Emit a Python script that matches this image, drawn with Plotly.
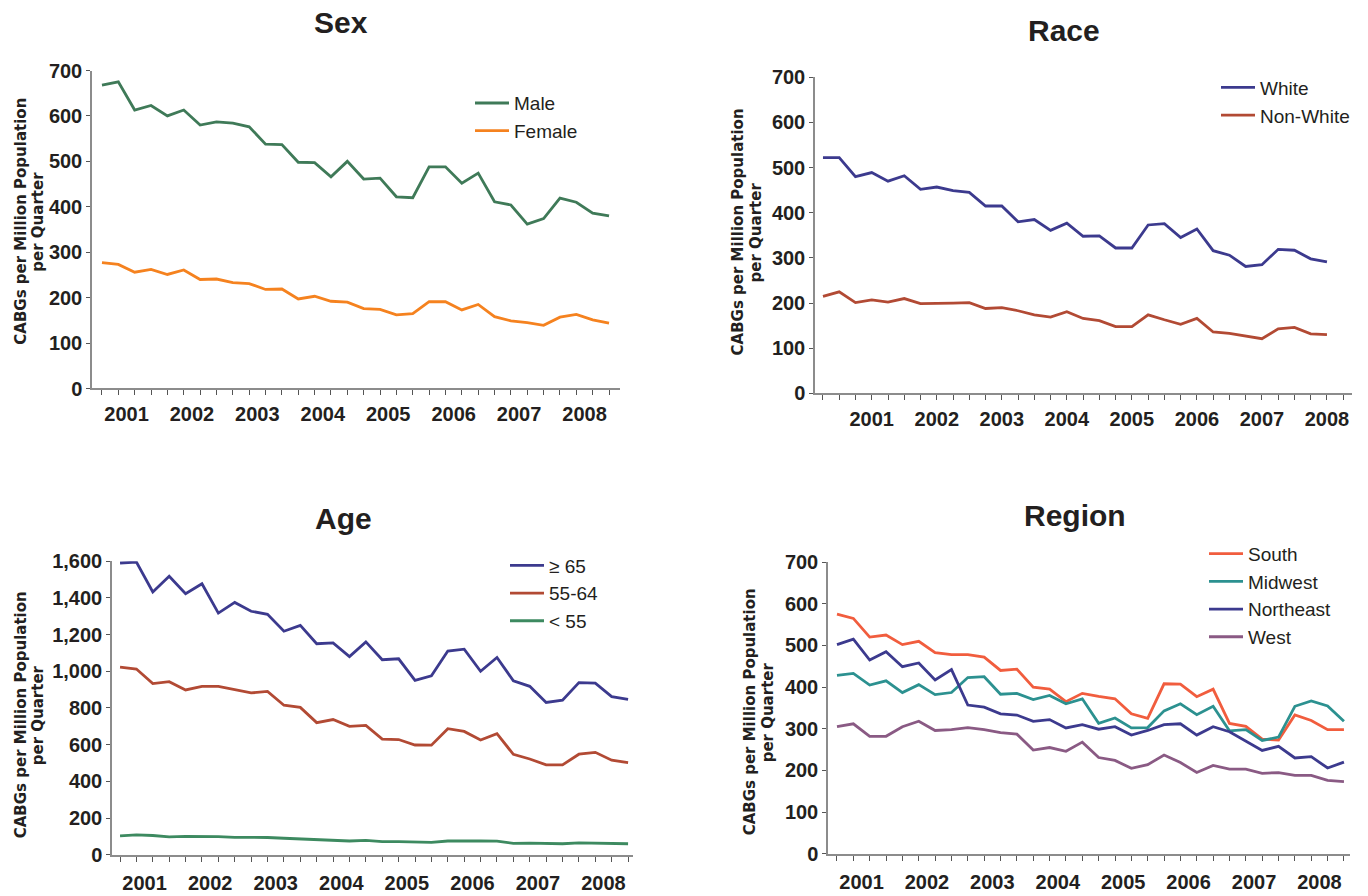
import plotly.graph_objects as go

# Quarterly CABG rates, 2001 Q1 - 2008 Q4 (32 quarters)
years = ["2001", "2002", "2003", "2004", "2005", "2006", "2007", "2008"]
quarters = list(range(32))

male = [668, 675, 613, 623, 600, 613, 580, 587, 584, 576, 538, 537, 498, 497, 466, 500,
        461, 463, 422, 420, 488, 488, 452, 474, 411, 404, 362, 374, 419, 410, 386, 380]
female = [277, 273, 256, 262, 251, 261, 240, 241, 233, 231, 218, 219, 197, 203, 192, 190,
          176, 174, 162, 165, 191, 191, 173, 185, 158, 149, 145, 139, 157, 163, 151, 144]

white = [522, 522, 480, 489, 470, 482, 452, 457, 449, 445, 415, 415, 380, 385, 361, 377,
         348, 349, 322, 322, 373, 376, 345, 364, 316, 306, 281, 285, 319, 317, 298, 291]
non_white = [215, 225, 201, 207, 202, 210, 199, 199, 200, 201, 188, 190, 183, 174, 169, 181,
             166, 161, 148, 148, 174, 163, 153, 166, 136, 133, 127, 121, 143, 146, 132, 130]

age_65_plus = [1590, 1595, 1432, 1518, 1422, 1477, 1317, 1375, 1327, 1310, 1218, 1250, 1150, 1155, 1080, 1160,
               1063, 1068, 950, 975, 1110, 1120, 1000, 1075, 948, 918, 830, 842, 938, 935, 862, 847]
age_55_64 = [1022, 1012, 933, 943, 898, 918, 918, 900, 882, 890, 815, 803, 720, 737, 700, 705,
             630, 628, 598, 597, 687, 672, 625, 660, 547, 522, 490, 490, 548, 558, 515, 502]
age_under_55 = [103, 108, 105, 97, 100, 100, 99, 95, 95, 94, 90, 86, 80, 80, 75, 78,
                72, 72, 70, 67, 75, 77, 75, 74, 62, 63, 60, 60, 65, 62, 62, 60]

south = [575, 565, 520, 525, 502, 510, 483, 478, 478, 472, 440, 443, 400, 395, 365, 385,
         378, 372, 336, 325, 408, 407, 377, 395, 313, 306, 275, 273, 333, 320, 298, 298]
midwest = [428, 433, 405, 415, 387, 406, 382, 387, 423, 425, 383, 385, 370, 380, 360, 372,
           313, 326, 302, 303, 343, 360, 334, 354, 295, 298, 272, 280, 354, 367, 355, 318]
northeast = [502, 515, 465, 485, 449, 458, 417, 442, 357, 352, 336, 333, 318, 322, 302, 310,
             299, 305, 285, 296, 310, 312, 285, 305, 293, 270, 248, 258, 230, 233, 206, 220]
west = [305, 312, 282, 282, 305, 318, 296, 298, 303, 298, 291, 287, 249, 255, 246, 268,
        231, 224, 205, 214, 237, 219, 195, 212, 203, 203, 193, 195, 188, 188, 176, 173]

W, H = 1368, 896
GREEN = "#3f7a58"
ORANGE = "#f5821f"
NAVY = "#3c3a8e"
BRICK = "#b24a34"
AGE_GREEN = "#3d8a60"
SOUTH = "#f15d3e"
TEAL = "#2c9190"
PLUM = "#8a5a84"
INK = "#231f20"

SANS = "Liberation Sans, Arial, sans-serif"
WIDE = "DejaVu Sans, Verdana, sans-serif"

fig = go.Figure()


def px_x(p):
    return p / W


def px_y(p):
    return 1 - p / H


def add_series(values, name, color, ax, legend):
    fig.add_trace(go.Scatter(
        x=quarters, y=values, name=name, mode="lines",
        line=dict(color=color, width=2.8),
        xaxis="x" + ax, yaxis="y" + ax, legend=legend,
    ))


add_series(male, "Male", GREEN, "", "legend")
add_series(female, "Female", ORANGE, "", "legend")
add_series(white, "White", NAVY, "2", "legend2")
add_series(non_white, "Non-White", BRICK, "2", "legend2")
add_series(age_65_plus, "\u2265 65", NAVY, "3", "legend3")
add_series(age_55_64, "55-64", BRICK, "3", "legend3")
add_series(age_under_55, "< 55", AGE_GREEN, "3", "legend3")
add_series(south, "South", SOUTH, "4", "legend4")
add_series(midwest, "Midwest", TEAL, "4", "legend4")
add_series(northeast, "Northeast", NAVY, "4", "legend4")
add_series(west, "West", PLUM, "4", "legend4")

# panel geometry in pixels, axis ranges, year-label offsets and label gap
panels = {
    "": dict(xd=(92, 620), yd=(61, 387), xr=(-0.61, 31.67), ymax=700, dt=100, yoff=1.5, nt=32, gap=7),
    "2": dict(xd=(815, 1352), yd=(68, 392), xr=(-0.49, 32.54), ymax=700, dt=100, yoff=3.0, nt=33, gap=7),
    "3": dict(xd=(112, 633), yd=(564, 865), xr=(-0.49, 31.3), ymax=1600, dt=200, yoff=1.5, nt=32, gap=9),
    "4": dict(xd=(828, 1350), yd=(565, 864), xr=(-0.55, 31.37), ymax=700, dt=100, yoff=1.5, nt=32, gap=9),
}

tick_font = dict(family=SANS, size=20, color=INK, weight="bold")

layout_axes = {}
for key, p in panels.items():
    yvals = list(range(0, p["ymax"] + 1, p["dt"]))
    layout_axes["xaxis" + key] = dict(
        domain=[px_x(p["xd"][0]), px_x(p["xd"][1])],
        range=list(p["xr"]), anchor="y" + key,
        showgrid=False, zeroline=False,
        showline=True, linecolor="#8c8c8c", linewidth=1.5,
        tickmode="array",
        tickvals=[p["yoff"] + 4 * i for i in range(len(years))],
        ticktext=years,
        ticks="outside", ticklen=p["gap"], tickcolor="rgba(0,0,0,0)",
        tickfont=tick_font,
        minor=dict(tickvals=list(range(p["nt"])), ticks="outside", ticklen=5,
                   tickcolor="#555555", tickwidth=1, showgrid=False),
        fixedrange=True,
    )
    layout_axes["yaxis" + key] = dict(
        domain=[px_y(p["yd"][1]), px_y(p["yd"][0])],
        range=[0, p["ymax"]], anchor="x" + key,
        showgrid=False, zeroline=False,
        showline=True, linecolor="#8c8c8c", linewidth=1.5,
        tickmode="array", tickvals=yvals,
        ticktext=[f"{v:,}" for v in yvals],
        ticks="outside", ticklen=4, tickcolor="#555555",
        tickfont=tick_font,
        fixedrange=True,
    )

legend_font = dict(family=SANS, size=19, color=INK)


def legend_at(x, y):
    return dict(x=px_x(x), y=px_y(y), xanchor="left", yanchor="top",
                bgcolor="rgba(0,0,0,0)", font=legend_font,
                tracegroupgap=0, itemwidth=34)


titles = [("Sex", 341, 12), ("Race", 1064, 20), ("Age", 343, 520), ("Region", 1075, 517)]
annotations = [
    dict(text=t, x=px_x(x), y=px_y(y), xref="paper", yref="paper",
         xanchor="center", yanchor="middle", showarrow=False,
         font=dict(family=SANS, size=30, color=INK, weight="bold"))
    for t, x, y in titles
]
# two-line rotated axis caption, one annotation per line
ylines = ["CABGs per Million Population", "per Quarter"]
for x1, x2, y in [(21, 38, 216), (738, 756, 227), (21, 38, 722), (750, 768, 719)]:
    for text, x in zip(ylines, (x1, x2)):
        annotations.append(dict(
            text=text, x=px_x(x), y=px_y(y), xref="paper", yref="paper",
            xanchor="center", yanchor="middle", showarrow=False, textangle=-90,
            font=dict(family=WIDE, size=15, color=INK, weight="bold"),
        ))

fig.update_layout(
    width=W, height=H,
    margin=dict(l=0, r=0, t=0, b=0),
    paper_bgcolor="white", plot_bgcolor="white",
    showlegend=True,
    legend=legend_at(470, 75),
    legend2=legend_at(1216, 59),
    legend3=legend_at(505, 549),
    legend4=legend_at(1204, 537),
    annotations=annotations,
    **layout_axes,
)

fig.write_html("out.html")
